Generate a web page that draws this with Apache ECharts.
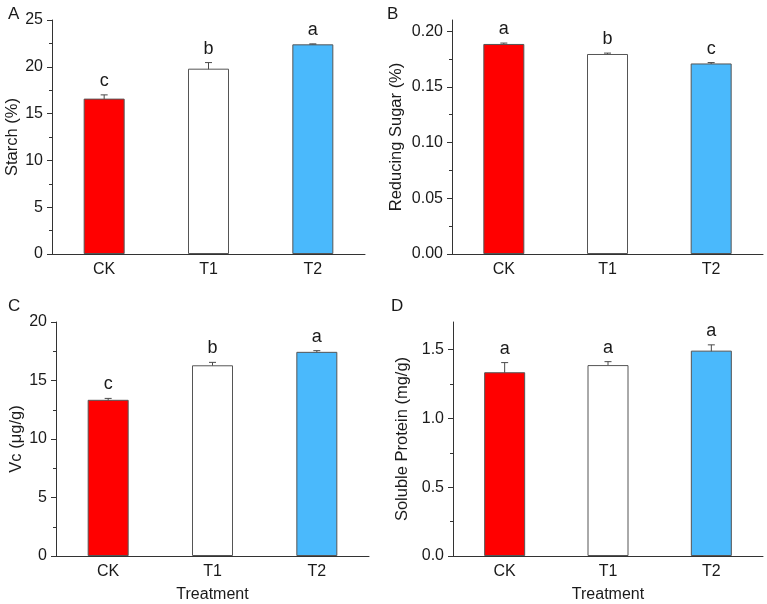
<!DOCTYPE html>
<html>
<head>
<meta charset="utf-8">
<script src="https://cdn.jsdelivr.net/npm/echarts@6/dist/echarts.min.js"></script>
<style>
  html, body { margin: 0; padding: 0; background: #fff; }
  #chart { width: 767px; height: 604px; }
</style>
</head>
<body>
<div id="chart"></div>
<script>
const categories = ['CK', 'T1', 'T2'];
const barColors = ['#ff0000', '#ffffff', '#4ab9fc'];

const starchMean = [16.6, 19.8, 22.4];
const starchErr = [0.4, 0.65, 0.05];
const starchLetters = ['c', 'b', 'a'];

const sugarMean = [0.1885, 0.1795, 0.1710];
const sugarErr = [0.0008, 0.0008, 0.0008];
const sugarLetters = ['a', 'b', 'c'];

const vcMean = [13.35, 16.3, 17.45];
const vcErr = [0.12, 0.25, 0.1];
const vcLetters = ['c', 'b', 'a'];

const proteinMean = [1.335, 1.387, 1.492];
const proteinErr = [0.07, 0.025, 0.042];
const proteinLetters = ['a', 'a', 'a'];

const starchTicks = [0, 5, 10, 15, 20, 25];
const starchMinor = [2.5, 7.5, 12.5, 17.5, 22.5];
const sugarTicks = [0, 0.05, 0.10, 0.15, 0.20];
const sugarMinor = [0.025, 0.075, 0.125, 0.175];
const vcTicks = [0, 5, 10, 15, 20];
const vcMinor = [2.5, 7.5, 12.5, 17.5];
const proteinTicks = [0, 0.5, 1.0, 1.5];
const proteinMinor = [0.25, 0.75, 1.25];

const font = "'Liberation Sans', Arial, sans-serif";
const axisColor = '#333';
const textColor = '#1a1a1a';

const panels = [
  { letter: 'A', name: 'Starch (%)', mean: starchMean, err: starchErr, sig: starchLetters,
    ticks: starchTicks, minor: starchMinor, max: 25, digits: 0, nameGap: 29, xName: '',
    grid: { left: 52, top: 20, width: 313, height: 234 }, title: { left: 3, top: 1 } },
  { letter: 'B', name: 'Reducing Sugar (%)', mean: sugarMean, err: sugarErr, sig: sugarLetters,
    ticks: sugarTicks, minor: sugarMinor, max: 0.21, digits: 2, nameGap: 47, xName: '',
    grid: { left: 452, top: 20, width: 311, height: 234 }, title: { left: 382, top: 1 } },
  { letter: 'C', name: 'Vc (μg/g)', mean: vcMean, err: vcErr, sig: vcLetters,
    ticks: vcTicks, minor: vcMinor, max: 20, digits: 0, nameGap: 29, xName: 'Treatment',
    grid: { left: 56, top: 322, width: 313, height: 234 }, title: { left: 3, top: 293 } },
  { letter: 'D', name: 'Soluble Protein (mg/g)', mean: proteinMean, err: proteinErr, sig: proteinLetters,
    ticks: proteinTicks, minor: proteinMinor, max: 1.7, digits: 1, nameGap: 42, xName: 'Treatment',
    grid: { left: 453, top: 322, width: 310, height: 234 }, title: { left: 386, top: 293 } }
];

const grid = [], xAxis = [], yAxis = [], series = [], title = [];

panels.forEach((p, i) => {
  grid.push(Object.assign({}, p.grid));
  title.push({
    text: p.letter, left: p.title.left, top: p.title.top,
    textStyle: { fontFamily: font, fontSize: 17, fontWeight: 'normal', color: textColor }
  });
  xAxis.push({
    type: 'category', gridIndex: i, data: categories,
    name: p.xName, nameLocation: 'middle', nameGap: 31,
    nameTextStyle: { fontFamily: font, fontSize: 16, color: textColor },
    axisLine: { lineStyle: { color: axisColor, width: 1 } },
    axisTick: { show: false },
    axisLabel: { fontFamily: font, fontSize: 16, color: textColor, margin: 8 }
  });
  // major ticks + labels
  yAxis.push({
    type: 'value', gridIndex: i, min: 0, max: p.max,
    name: p.name, nameLocation: 'middle', nameGap: p.nameGap,
    nameTextStyle: { fontFamily: font, fontSize: 16.5, color: textColor },
    axisLine: { show: true, lineStyle: { color: axisColor, width: 1 } },
    axisTick: { show: true, length: 5, customValues: p.ticks, lineStyle: { color: axisColor } },
    axisLabel: {
      fontFamily: font, fontSize: 16, color: textColor, margin: 9,
      customValues: p.ticks,
      formatter: v => Number(v).toFixed(p.digits)
    },
    splitLine: { show: false }
  });
  // minor ticks only
  yAxis.push({
    type: 'value', gridIndex: i, min: 0, max: p.max, position: 'left',
    axisLine: { show: false },
    axisTick: { show: true, length: 3, customValues: p.minor, lineStyle: { color: axisColor } },
    axisLabel: { show: false },
    splitLine: { show: false }
  });

  series.push({
    type: 'bar', xAxisIndex: i, yAxisIndex: 2 * i,
    barWidth: 41,
    data: p.mean.map((v, k) => ({
      value: v,
      itemStyle: { color: barColors[k], borderColor: '#555', borderWidth: 1 }
    })),
    silent: true
  });

  // error bars and significance letters
  series.push({
    type: 'custom', xAxisIndex: i, yAxisIndex: 2 * i, clip: false, silent: true,
    data: p.mean.map((v, k) => [k, v, p.err[k]]),
    encode: { x: 0, y: 1 },
    renderItem: (params, api) => {
      const k = api.value(0);
      const m = api.value(1);
      const e = api.value(2);
      const hi = api.coord([k, m + e]);
      const lo = api.coord([k, m - e]);
      const cap = 3.5;
      const style = { stroke: '#4a4a4a', lineWidth: 1 };
      return {
        type: 'group',
        children: [
          { type: 'line', shape: { x1: hi[0], y1: hi[1], x2: lo[0], y2: lo[1] }, style },
          { type: 'line', shape: { x1: hi[0] - cap, y1: hi[1], x2: hi[0] + cap, y2: hi[1] }, style },
          { type: 'line', shape: { x1: lo[0] - cap, y1: lo[1], x2: lo[0] + cap, y2: lo[1] }, style },
          {
            type: 'text',
            style: {
              text: p.sig[params.dataIndex], x: hi[0], y: hi[1] - 5,
              align: 'center', verticalAlign: 'bottom',
              font: '18px ' + font, fill: textColor
            }
          }
        ]
      };
    }
  });
});

const chart = echarts.init(document.getElementById('chart'));
chart.setOption({
  animation: false,
  backgroundColor: '#fff',
  title, grid, xAxis, yAxis, series
});
</script>
</body>
</html>
